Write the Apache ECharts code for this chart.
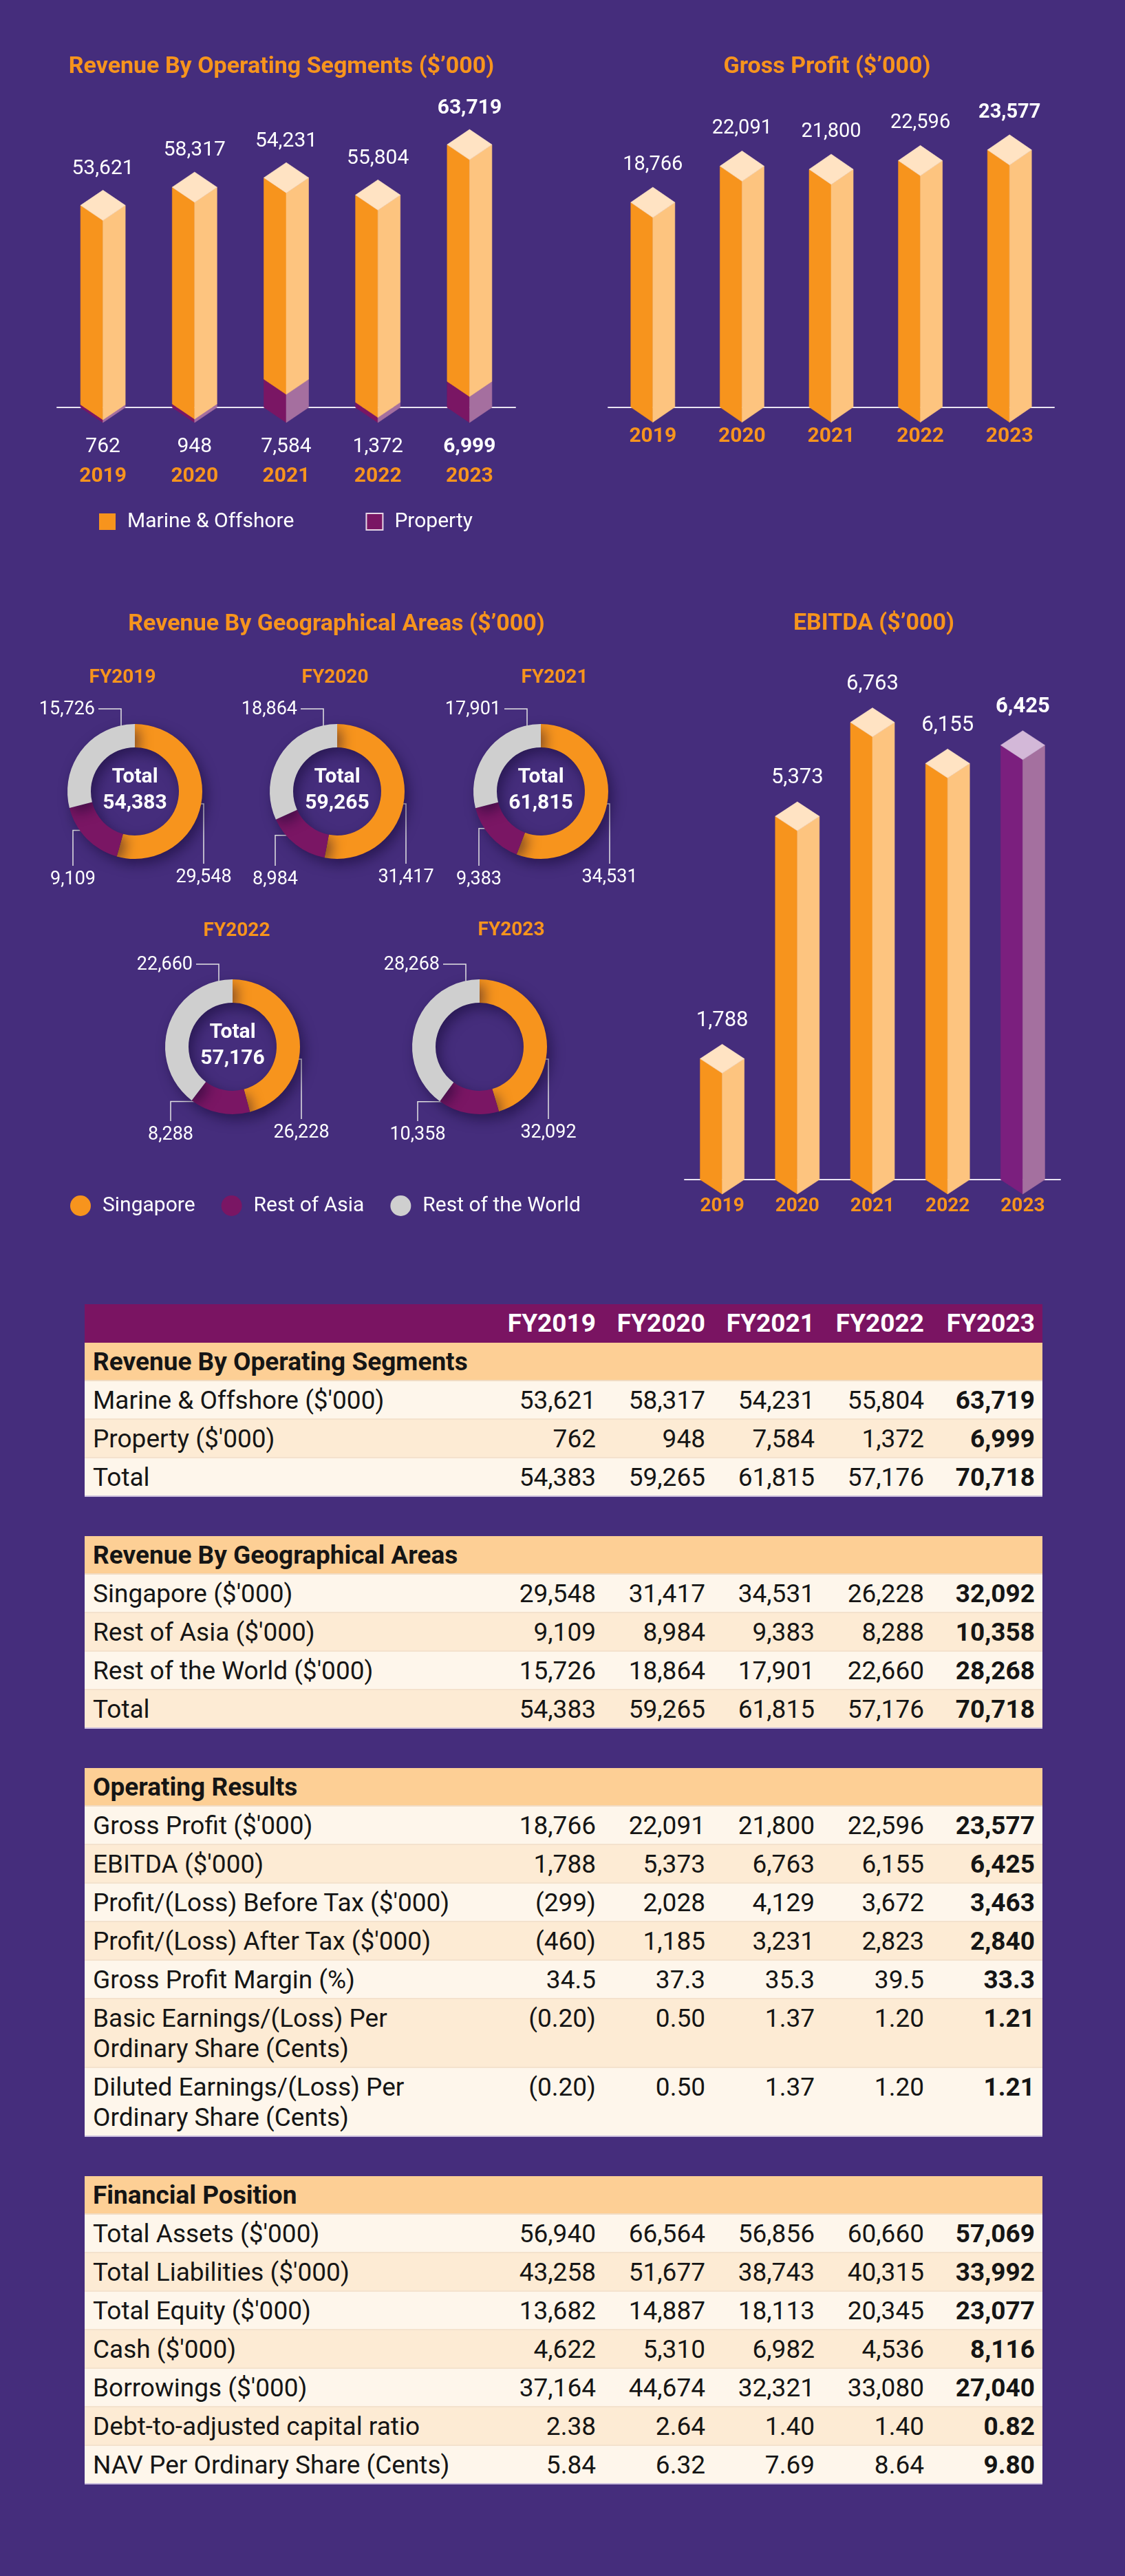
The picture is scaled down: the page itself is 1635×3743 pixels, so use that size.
<!DOCTYPE html>
<html>
<head>
<meta charset="utf-8">
<script src="https://cdn.jsdelivr.net/npm/echarts@6/dist/echarts.min.js"></script>
<style>
html,body{margin:0;padding:0;background:#452d7c;}
body{width:1635px;height:3743px;position:relative;overflow:hidden;font-family:Roboto,'Noto Sans',sans-serif;}
#chart{position:absolute;left:0;top:0;width:1635px;height:1880px;}
#table{position:absolute;left:123px;top:1895px;width:1392px;}
.sec{margin-top:57px;}
.row{display:flex;box-sizing:border-box;height:56px;font-size:37px;line-height:44px;padding-top:6px;color:#151515;border-bottom:2px solid #f4e2cd;}
.row.dbl{height:100px;}
.row.light{background:#fef6eb;}
.row.dark{background:#fdebd4;}
.row.last{border-bottom:2px solid #c9bcdc;}
.row.head{background:#7a1462;color:#fff;font-weight:bold;border-bottom:none;}
.row.band{background:#fdcf95;font-weight:bold;border-bottom:2px solid #f1dcc4;}
.c0{width:584px;padding-left:12px;box-sizing:border-box;white-space:nowrap;}
.cn{width:159px;text-align:right;box-sizing:border-box;white-space:nowrap;}
.cl{width:172px;text-align:right;padding-right:11px;box-sizing:border-box;font-weight:bold;white-space:nowrap;}
</style>
</head>
<body>
<div id="chart"></div>
<div id="table"></div>
<script>
// ---------------- DATA ----------------
const years = ['2019', '2020', '2021', '2022', '2023'];
const fyLabels = ['FY2019', 'FY2020', 'FY2021', 'FY2022', 'FY2023'];
const marineOffshore = [53621, 58317, 54231, 55804, 63719];
const property = [762, 948, 7584, 1372, 6999];
const grossProfit = [18766, 22091, 21800, 22596, 23577];
const ebitda = [1788, 5373, 6763, 6155, 6425];
const singapore = [29548, 31417, 34531, 26228, 32092];
const restOfAsia = [9109, 8984, 9383, 8288, 10358];
const restOfWorld = [15726, 18864, 17901, 22660, 28268];
const revenueTotal = [54383, 59265, 61815, 57176, 70718];
const profitBeforeTax = [-299, 2028, 4129, 3672, 3463];
const profitAfterTax = [-460, 1185, 3231, 2823, 2840];
const grossProfitMargin = [34.5, 37.3, 35.3, 39.5, 33.3];
const basicEPS = [-0.20, 0.50, 1.37, 1.20, 1.21];
const dilutedEPS = [-0.20, 0.50, 1.37, 1.20, 1.21];
const totalAssets = [56940, 66564, 56856, 60660, 57069];
const totalLiabilities = [43258, 51677, 38743, 40315, 33992];
const totalEquity = [13682, 14887, 18113, 20345, 23077];
const cash = [4622, 5310, 6982, 4536, 8116];
const borrowings = [37164, 44674, 32321, 33080, 27040];
const debtToAdjustedCapital = [2.38, 2.64, 1.40, 1.40, 0.82];
const navPerShare = [5.84, 6.32, 7.69, 8.64, 9.80];
const geoNames = ['Singapore', 'Rest of Asia', 'Rest of the World'];
const segNames = ['Marine & Offshore', 'Property'];

// ---------------- HELPERS ----------------
const FONT = 'Roboto, "Noto Sans", sans-serif';
const ORANGE = '#F7941D';
function fmtInt(v) { const s = Math.abs(v).toLocaleString('en-US'); return v < 0 ? '(' + s + ')' : s; }
function fmtDec(d) { return function (v) { const s = Math.abs(v).toFixed(d); return v < 0 ? '(' + s + ')' : s; }; }

const orangeCols = { left: '#F7941D', right: '#FDC47F', top: '#FFE3C3' };
const propCols = { left: '#7A1664', right: '#A56F9F', top: '#D3B7D6' };
const purpleCols = { left: '#7B1F7E', right: '#A4709F', top: '#D3B8D8' };

function bar3D(cfg) {
  return function (params, api) {
    const i = api.value(0);
    const top = api.coord([i, api.value(2)]);
    const bot = api.coord([i, api.value(1)]);
    const cx = top[0], yT = top[1], yB = bot[1], w = cfg.w, d = cfg.d;
    const col = cfg.color(i);
    const face = (pts, fill) => ({ type: 'polygon', shape: { points: pts }, style: { fill: fill, stroke: fill, lineWidth: 0.6 } });
    const children = [
      face([[cx - w, yT], [cx, yT + d], [cx, yB + d], [cx - w, yB]], col.left),
      face([[cx, yT + d], [cx + w, yT], [cx + w, yB], [cx, yB + d]], col.right)
    ];
    if (cfg.cap) {
      children.push(face([[cx - w, yT], [cx, yT - d], [cx + w, yT], [cx, yT + d]], col.top));
      const bold = i === 4;
      children.push({
        type: 'text', x: cx, y: yT - d - cfg.gap,
        style: {
          text: fmtInt(cfg.label(i)), align: 'center', verticalAlign: 'bottom',
          textAlign: 'center', textVerticalAlign: 'bottom', fill: '#ffffff',
          font: (bold ? 'bold ' : '') + cfg.fontSize + 'px ' + FONT
        }
      });
    }
    return { type: 'group', children: children };
  };
}

// ---------------- CHART ----------------
const chart = echarts.init(document.getElementById('chart'), null, { renderer: 'canvas' });

const donutCenters = [[196, 1150], [490, 1150], [786, 1150], [338, 1521], [697, 1521]];
const fyPos = [[178, 985], [487, 985], [806, 985], [344, 1353], [743, 1352]];

function donutLabelLayout(k) {
  return function (params) {
    const cx = donutCenters[k][0], cy = donutCenters[k][1];
    const j = params.dataIndex;
    if (j === 0) {
      return { x: cx + 100, y: cy + 112, align: 'center', verticalAlign: 'top',
        labelLinePoints: [[cx + 82, cy + 18], [cx + 100, cy + 18], [cx + 100, cy + 105]] };
    }
    if (j === 1) {
      const tot = singapore[k] + restOfAsia[k] + restOfWorld[k];
      const a0 = singapore[k] / tot * Math.PI * 2;
      const a1 = a0 + restOfAsia[k] / tot * Math.PI * 2;
      const am = (a0 + a1) / 2;
      const ax = cx + 81 * Math.sin(am), ay = cy - 81 * Math.cos(am);
      return { x: cx - 90, y: cy + 115, align: 'center', verticalAlign: 'top',
        labelLinePoints: [[ax, ay], [cx - 90, ay], [cx - 90, cy + 108]] };
    }
    return { x: cx - 58, y: cy - 119, align: 'right', verticalAlign: 'middle',
      labelLinePoints: [[cx - 20, cy - 88], [cx - 20, cy - 120], [cx - 53, cy - 120]] };
  };
}

const geoColors = ['#F7941D', '#7A1664', '#CFCFCF'];
const pieSeries = fyLabels.map(function (fy, k) {
  return {
    type: 'pie', name: fy, center: donutCenters[k], radius: [64, 98],
    startAngle: 90, clockwise: true, avoidLabelOverlap: false, silent: true,
    emphasis: { disabled: true }, z: 3,
    itemStyle: { borderWidth: 0, shadowBlur: 18, shadowColor: 'rgba(15,5,45,0.5)', shadowOffsetX: 6, shadowOffsetY: 8 },
    label: { show: true, position: 'outside', formatter: function (p) { return fmtInt(p.value); },
      color: '#ffffff', fontSize: 27, fontFamily: FONT },
    labelLine: { show: true, length: 10, length2: 10, lineStyle: { color: '#e4e4e4', width: 1.5 } },
    labelLayout: donutLabelLayout(k),
    data: [
      { name: geoNames[0], value: singapore[k], itemStyle: { color: geoColors[0] } },
      { name: geoNames[1], value: restOfAsia[k], itemStyle: { color: geoColors[1] } },
      { name: geoNames[2], value: restOfWorld[k], itemStyle: { color: geoColors[2] } }
    ]
  };
});

const graphics = [];
function addText(x, y, text, font, fill, align) {
  graphics.push({ type: 'text', x: x, y: y, silent: true,
    style: { text: text, font: font, fill: fill, align: align || 'center', verticalAlign: 'middle',
      textAlign: align || 'center', textVerticalAlign: 'middle' } });
}
addText(409, 97, 'Revenue By Operating Segments ($\u2019000)', 'bold 34px ' + FONT, ORANGE);
addText(1202, 97, 'Gross Profit ($\u2019000)', 'bold 34px ' + FONT, ORANGE);
addText(489, 907, 'Revenue By Geographical Areas ($\u2019000)', 'bold 34px ' + FONT, ORANGE);
addText(1270, 906, 'EBITDA ($\u2019000)', 'bold 34px ' + FONT, ORANGE);
fyLabels.forEach(function (fy, k) { addText(fyPos[k][0], fyPos[k][1], fy, 'bold 28px ' + FONT, ORANGE); });
for (let k = 0; k < 4; k++) {
  const tot = singapore[k] + restOfAsia[k] + restOfWorld[k];
  addText(donutCenters[k][0], donutCenters[k][1] - 21, 'Total', 'bold 30px ' + FONT, '#ffffff');
  addText(donutCenters[k][0], donutCenters[k][1] + 17, fmtInt(tot), 'bold 30px ' + FONT, '#ffffff');
}

const axisLineStyle = { show: true, lineStyle: { color: '#e9e4f2', width: 2 } };

const option = {
  animation: false,
  backgroundColor: 'transparent',
  textStyle: { fontFamily: FONT },
  grid: [
    { left: 83, width: 666, top: 160, height: 432 },
    { left: 884, width: 648, top: 116, height: 475.5 },
    { left: 995, width: 546, top: 928, height: 786 }
  ],
  xAxis: [
    { type: 'category', gridIndex: 0, data: years, axisLine: axisLineStyle, axisTick: { show: false },
      axisLabel: { margin: 36, interval: 0,
        formatter: function (v, idx) { return '{' + (idx === 4 ? 'pb' : 'p') + '|' + fmtInt(property[idx]) + '}\n{y|' + v + '}'; },
        rich: {
          p: { color: '#ffffff', fontSize: 30, lineHeight: 43, fontFamily: FONT },
          pb: { color: '#ffffff', fontSize: 30, lineHeight: 43, fontWeight: 'bold', fontFamily: FONT },
          y: { color: ORANGE, fontSize: 30, lineHeight: 43, fontWeight: 'bold', fontFamily: FONT }
        } } },
    { type: 'category', gridIndex: 1, data: years, axisLine: axisLineStyle, axisTick: { show: false },
      axisLabel: { margin: 28, interval: 0, color: ORANGE, fontSize: 30, fontWeight: 'bold', fontFamily: FONT } },
    { type: 'category', gridIndex: 2, data: years, axisLine: axisLineStyle, axisTick: { show: false },
      axisLabel: { margin: 25, interval: 0, color: ORANGE, fontSize: 28, fontWeight: 'bold', fontFamily: FONT } }
  ],
  yAxis: [
    { type: 'value', gridIndex: 0, min: 0, max: 80000, show: false, splitLine: { show: false } },
    { type: 'value', gridIndex: 1, min: 0, max: 30000, show: false, splitLine: { show: false } },
    { type: 'value', gridIndex: 2, min: 0, max: 8000, show: false, splitLine: { show: false } }
  ],
  legend: [
    { left: 139, top: 738, itemWidth: 24, itemHeight: 24, itemGap: 104, icon: 'rect',
      textStyle: { color: '#ffffff', fontSize: 30, fontFamily: FONT, padding: [0, 0, 0, 12] },
      data: [{ name: segNames[0] }, { name: segNames[1], itemStyle: { borderColor: '#e6d6e6', borderWidth: 2 } }],
      selectedMode: false },
    { left: 97, top: 1732, itemWidth: 30, itemHeight: 30, itemGap: 38, icon: 'circle',
      textStyle: { color: '#ffffff', fontSize: 30, fontFamily: FONT, padding: [0, 0, 0, 12] },
      data: geoNames, selectedMode: false }
  ],
  graphic: graphics,
  series: [
    { type: 'custom', name: segNames[1], xAxisIndex: 0, yAxisIndex: 0, clip: false,
      itemStyle: { color: '#7A1664' }, encode: { x: 0, y: [1, 2] },
      renderItem: bar3D({ w: 32.5, d: 22, cap: false, color: function () { return propCols; } }),
      data: property.map(function (v, i) { return [i, 0, v]; }) },
    { type: 'custom', name: segNames[0], xAxisIndex: 0, yAxisIndex: 0, clip: false,
      itemStyle: { color: ORANGE }, encode: { x: 0, y: [1, 2] },
      renderItem: bar3D({ w: 32.5, d: 22, cap: true, gap: 16, fontSize: 30,
        color: function () { return orangeCols; }, label: function (i) { return marineOffshore[i]; } }),
      data: marineOffshore.map(function (v, i) { return [i, property[i], property[i] + v]; }) },
    { type: 'custom', name: 'Gross Profit', xAxisIndex: 1, yAxisIndex: 1, clip: false,
      itemStyle: { color: ORANGE }, encode: { x: 0, y: [1, 2] },
      renderItem: bar3D({ w: 32, d: 22, cap: true, gap: 18, fontSize: 29,
        color: function () { return orangeCols; }, label: function (i) { return grossProfit[i]; } }),
      data: grossProfit.map(function (v, i) { return [i, 0, v]; }) },
    { type: 'custom', name: 'EBITDA', xAxisIndex: 2, yAxisIndex: 2, clip: false,
      itemStyle: { color: ORANGE }, encode: { x: 0, y: [1, 2] },
      renderItem: bar3D({ w: 32, d: 21, cap: true, gap: 19, fontSize: 31,
        color: function (i) { return i === 4 ? purpleCols : orangeCols; }, label: function (i) { return ebitda[i]; } }),
      data: ebitda.map(function (v, i) { return [i, 0, v]; }) }
  ].concat(pieSeries)
};
chart.setOption(option);

// ---------------- TABLE ----------------
const q = "($'000)";
const tableSections = [
  { title: 'Revenue By Operating Segments', rows: [
    ['Marine & Offshore ' + q, marineOffshore, fmtInt],
    ['Property ' + q, property, fmtInt],
    ['Total', revenueTotal, fmtInt]] },
  { title: 'Revenue By Geographical Areas', rows: [
    ['Singapore ' + q, singapore, fmtInt],
    ['Rest of Asia ' + q, restOfAsia, fmtInt],
    ['Rest of the World ' + q, restOfWorld, fmtInt],
    ['Total', revenueTotal, fmtInt]] },
  { title: 'Operating Results', rows: [
    ['Gross Profit ' + q, grossProfit, fmtInt],
    ['EBITDA ' + q, ebitda, fmtInt],
    ['Profit/(Loss) Before Tax ' + q, profitBeforeTax, fmtInt],
    ['Profit/(Loss) After Tax ' + q, profitAfterTax, fmtInt],
    ['Gross Profit Margin (%)', grossProfitMargin, fmtDec(1)],
    ['Basic Earnings/(Loss) Per<br>Ordinary Share (Cents)', basicEPS, fmtDec(2)],
    ['Diluted Earnings/(Loss) Per<br>Ordinary Share (Cents)', dilutedEPS, fmtDec(2)]] },
  { title: 'Financial Position', rows: [
    ['Total Assets ' + q, totalAssets, fmtInt],
    ['Total Liabilities ' + q, totalLiabilities, fmtInt],
    ['Total Equity ' + q, totalEquity, fmtInt],
    ['Cash ' + q, cash, fmtInt],
    ['Borrowings ' + q, borrowings, fmtInt],
    ['Debt-to-adjusted capital ratio', debtToAdjustedCapital, fmtDec(2)],
    ['NAV Per Ordinary Share (Cents)', navPerShare, fmtDec(2)]] }
];

function cells(label, vals) {
  let h = '<div class="c0">' + label + '</div>';
  vals.forEach(function (v, i) { h += '<div class="' + (i === 4 ? 'cl' : 'cn') + '">' + v + '</div>'; });
  return h;
}
let html = '';
tableSections.forEach(function (sec, s) {
  html += '<div class="' + (s === 0 ? '' : 'sec') + '">';
  if (s === 0) html += '<div class="row head">' + cells('', fyLabels) + '</div>';
  html += '<div class="row band"><div class="c0">' + sec.title + '</div></div>';
  sec.rows.forEach(function (r, i) {
    const cls = ['row', i % 2 === 0 ? 'light' : 'dark'];
    if (r[0].indexOf('<br>') >= 0) cls.push('dbl');
    if (i === sec.rows.length - 1) cls.push('last');
    html += '<div class="' + cls.join(' ') + '">' + cells(r[0], r[1].map(r[2])) + '</div>';
  });
  html += '</div>';
});
document.getElementById('table').innerHTML = html;
</script>
</body>
</html>
